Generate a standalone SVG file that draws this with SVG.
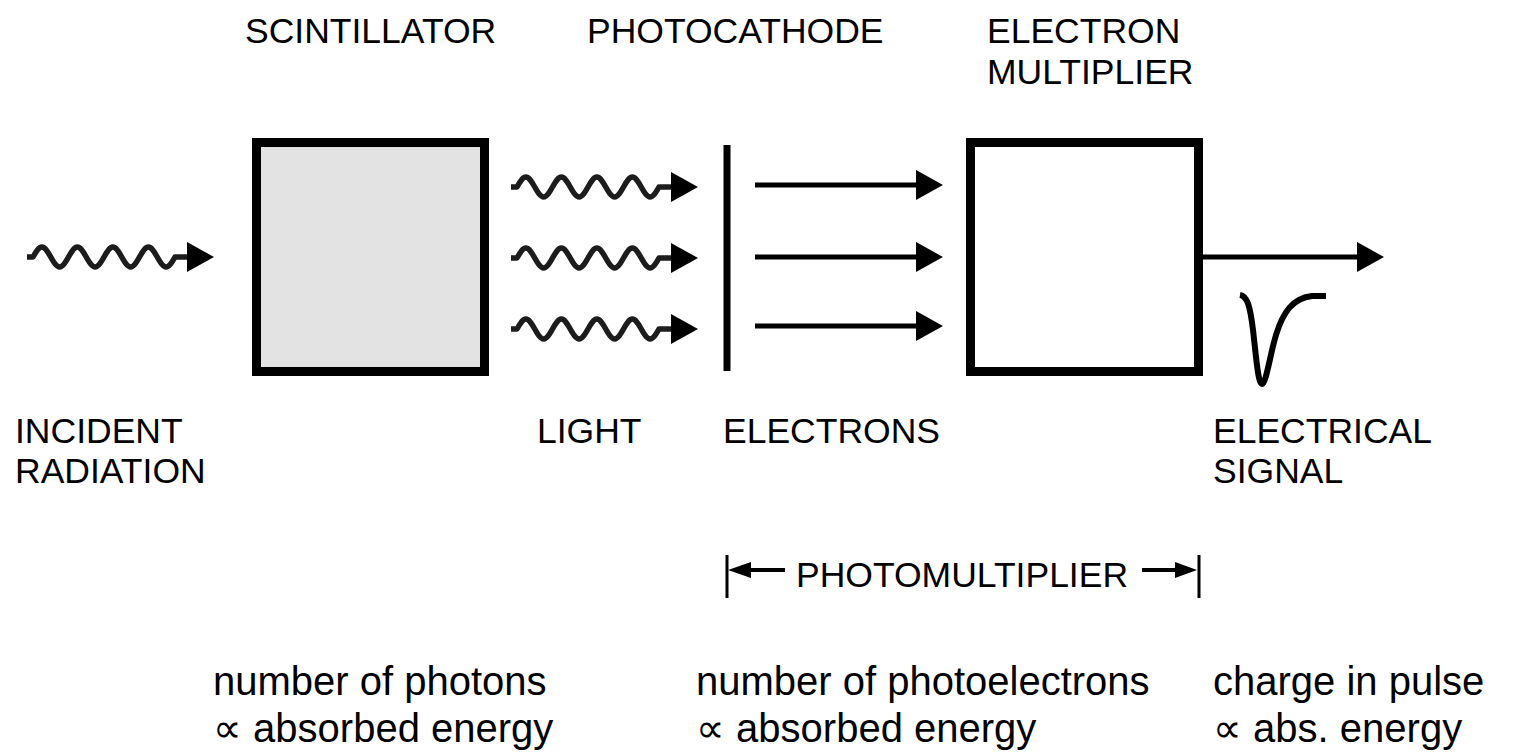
<svg xmlns="http://www.w3.org/2000/svg" xmlns:xlink="http://www.w3.org/1999/xlink" width="1527" height="754" viewBox="0 0 1527 754">
<style>
.lbl{font-family:"Liberation Sans",Arial,sans-serif;font-size:35.5px;fill:#000}
.big{font-family:"Liberation Sans",Arial,sans-serif;font-size:40px;fill:#000}
.box{stroke:#000;stroke-width:9}
.wave{fill:none;stroke:#1c1c1c;stroke-width:5.5;stroke-linejoin:round}
.line{stroke:#000;stroke-width:5;fill:none}
.head{fill:#000}
</style>
<defs>
<g id="wavy">
<path class="wave" d="M0,0 h6 c2.893,-5.12 5.68,-10 8.875,-10 c3.195,0 5.982,4.88 8.875,10 c2.893,5.12 5.68,10 8.875,10 c3.195,0 5.982,-4.88 8.875,-10 c2.893,-5.12 5.68,-10 8.875,-10 c3.195,0 5.982,4.88 8.875,10 c2.893,5.12 5.68,10 8.875,10 c3.195,0 5.982,-4.88 8.875,-10 c2.893,-5.12 5.68,-10 8.875,-10 c3.195,0 5.982,4.88 8.875,10 c2.893,5.12 5.68,10 8.875,10 c3.195,0 5.982,-4.88 8.875,-10 c2.893,-5.12 5.68,-10 8.875,-10 c3.195,0 5.982,4.88 8.875,10 c2.893,5.12 5.68,10 8.875,10 c3.195,0 5.982,-4.88 8.875,-10 h14"/>
<polygon class="head" points="160,-15 187,0 160,15"/>
</g>
<polygon id="ah" class="head" points="-27,-15 0,0 -27,15"/>
</defs>

<g id="scintillator">
<rect class="box" x="256.5" y="142.5" width="228" height="229" fill="#e3e3e3"/>
<text class="lbl" x="245" y="43">SCINTILLATOR</text>
</g>

<g id="photocathode">
<rect x="723.5" y="145" width="7" height="226" fill="#000"/>
<text class="lbl" x="587" y="43">PHOTOCATHODE</text>
</g>

<g id="multiplier">
<rect class="box" x="970.5" y="142.5" width="228" height="229" fill="#fff"/>
<text class="lbl" x="987" y="43">ELECTRON</text>
<text class="lbl" x="987" y="84">MULTIPLIER</text>
</g>

<g id="incident">
<text class="lbl" x="15" y="443">INCIDENT</text>
<text class="lbl" x="15" y="483">RADIATION</text>
</g>

<g id="light">
<text class="lbl" x="537" y="443">LIGHT</text>
</g>

<g id="electrons">
<text class="lbl" x="723" y="443">ELECTRONS</text>
</g>

<g id="signal">
<path d="M1240,295 C1247,296 1250,305 1253,330 C1256,355 1258,384 1262,384 C1266,384 1270,355 1276,335 C1283,312 1293,298 1312,296 L1326,296" fill="none" stroke="#000" stroke-width="6"/>
<text class="lbl" x="1213" y="443">ELECTRICAL</text>
<text class="lbl" x="1213" y="483">SIGNAL</text>
</g>

<g id="photomultiplier">
<line x1="727" y1="555" x2="727" y2="598" stroke="#000" stroke-width="3"/>
<line x1="1199" y1="555" x2="1199" y2="598" stroke="#000" stroke-width="3"/>
<line x1="745" y1="570" x2="785" y2="570" stroke="#000" stroke-width="4"/>
<polygon class="head" points="728,570 751,562 751,578"/>
<line x1="1142" y1="570" x2="1182" y2="570" stroke="#000" stroke-width="4"/>
<polygon class="head" points="1197,570 1175,562 1175,578"/>
<text class="lbl" x="796" y="587">PHOTOMULTIPLIER</text>
</g>

<g id="notes">
<text class="big" x="213" y="695">number of photons</text>
<text class="big" x="213" y="742">∝ absorbed energy</text>
<text class="big" x="696" y="695">number of photoelectrons</text>
<text class="big" x="696" y="742">∝ absorbed energy</text>
<text class="big" x="1213" y="695">charge in pulse</text>
<text class="big" x="1213" y="742">∝ abs. energy</text>
</g>

<g id="connectors">
<use xlink:href="#wavy" x="27" y="257"/>
<use xlink:href="#wavy" x="511" y="187"/>
<use xlink:href="#wavy" x="511" y="258"/>
<use xlink:href="#wavy" x="511" y="329"/>
<line class="line" x1="755" y1="185" x2="918" y2="185"/>
<use xlink:href="#ah" x="943" y="185"/>
<line class="line" x1="755" y1="257" x2="918" y2="257"/>
<use xlink:href="#ah" x="943" y="257"/>
<line class="line" x1="755" y1="326" x2="918" y2="326"/>
<use xlink:href="#ah" x="943" y="326"/>
<line class="line" x1="1203" y1="257" x2="1360" y2="257"/>
<use xlink:href="#ah" x="1384" y="257"/>
</g>
</svg>
